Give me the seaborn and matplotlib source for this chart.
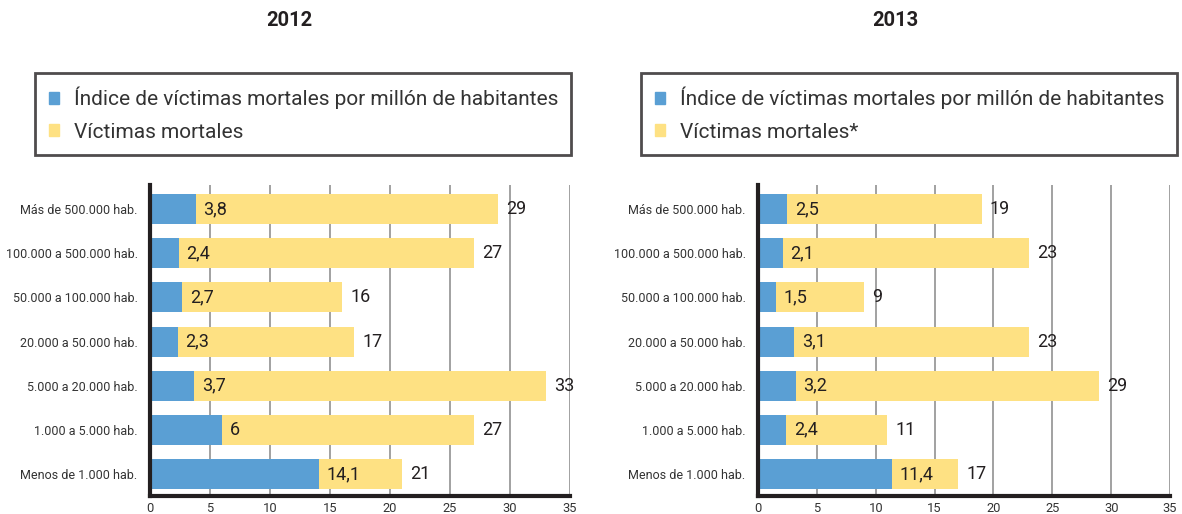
import pandas as pd
import seaborn as sns
import matplotlib.pyplot as plt
from matplotlib.patches import Patch

categorias = ['Más de 500.000 hab.', '100.000 a 500.000 hab.', '50.000 a 100.000 hab.',
              '20.000 a 50.000 hab.', '5.000 a 20.000 hab.', '1.000 a 5.000 hab.',
              'Menos de 1.000 hab.']
indice_2012 = [3.8, 2.4, 2.7, 2.3, 3.7, 6.0, 14.1]
victimas_2012 = [29, 27, 16, 17, 33, 27, 21]
indice_2013 = [2.5, 2.1, 1.5, 3.1, 3.2, 2.4, 11.4]
victimas_2013 = [19, 23, 9, 23, 29, 11, 17]

AZUL = '#5A9FD4'
AMARILLO = '#FEE183'
TEXTO = '#231f20'

sns.set_theme(style='white')
plt.rcParams['font.family'] = ['Roboto', 'DejaVu Sans']

fig = plt.figure(figsize=(11.82, 5.14), dpi=100)
W, H = 1182, 514


def fmt(v):
    s = ('%.1f' % v).replace('.', ',')
    return s[:-2] if s.endswith(',0') else s


def panel(left, right, titulo, indice, victimas, leyenda, box_left):
    ax = fig.add_axes([left / W, 1 - 496 / H, (right - left) / W, (496 - 185) / H])
    df = pd.DataFrame({'cat': categorias, 'ind': indice, 'vic': victimas})
    sns.barplot(data=df, x='vic', y='cat', color=AMARILLO, width=0.68,
                saturation=1, linewidth=0, ax=ax)
    sns.barplot(data=df, x='ind', y='cat', color=AZUL, width=0.68,
                saturation=1, linewidth=0, ax=ax)
    for i, (a, b) in enumerate(zip(indice, victimas)):
        ax.text(a + 0.65, i, fmt(a), va='center', ha='left', fontsize=13, color=TEXTO)
        ax.text(b + 0.7, i, str(b), va='center', ha='left', fontsize=13, color=TEXTO)
    ax.set_xlim(0, 35)
    ax.set_ylim(6.5, -0.55)
    ax.set_xticks(range(0, 36, 5))
    ax.xaxis.grid(True, color='#9a9a9a', linewidth=1.3)
    ax.set_axisbelow(True)
    ax.set_xlabel('')
    ax.set_ylabel('')
    for s in ['top', 'right']:
        ax.spines[s].set_visible(False)
    for s in ['left', 'bottom']:
        ax.spines[s].set_color(TEXTO)
        ax.spines[s].set_linewidth(3)
    ax.tick_params(axis='x', length=0, labelsize=9.3, colors='#333333', pad=4)
    ax.tick_params(axis='y', length=0, labelsize=9.0, colors='#333333', pad=9)
    fig.text((box_left + 254) / W, 1 - 21 / H, titulo, ha='center', va='center',
             fontsize=14.5, fontweight='bold', color=TEXTO)
    handles = [Patch(color=AZUL), Patch(color=AMARILLO)]
    lg = fig.legend(handles, leyenda, loc='upper left',
                    bbox_to_anchor=(box_left / W, 1 - 73 / H), fontsize=15,
                    frameon=True, fancybox=False, handlelength=0.5, handleheight=0.5,
                    handletextpad=0.7, labelspacing=0.65, borderpad=0.65,
                    borderaxespad=0, labelcolor='#333333')
    lg.get_frame().set_edgecolor(TEXTO)
    lg.get_frame().set_linewidth(2)
    return ax


panel(150, 570, '2012', indice_2012, victimas_2012,
      ['Índice de víctimas mortales por millón de habitantes', 'Víctimas mortales'], 35)
panel(758, 1170, '2013', indice_2013, victimas_2013,
      ['Índice de víctimas mortales por millón de habitantes', 'Víctimas mortales*'], 641)

fig.savefig('out.png', dpi=100)
